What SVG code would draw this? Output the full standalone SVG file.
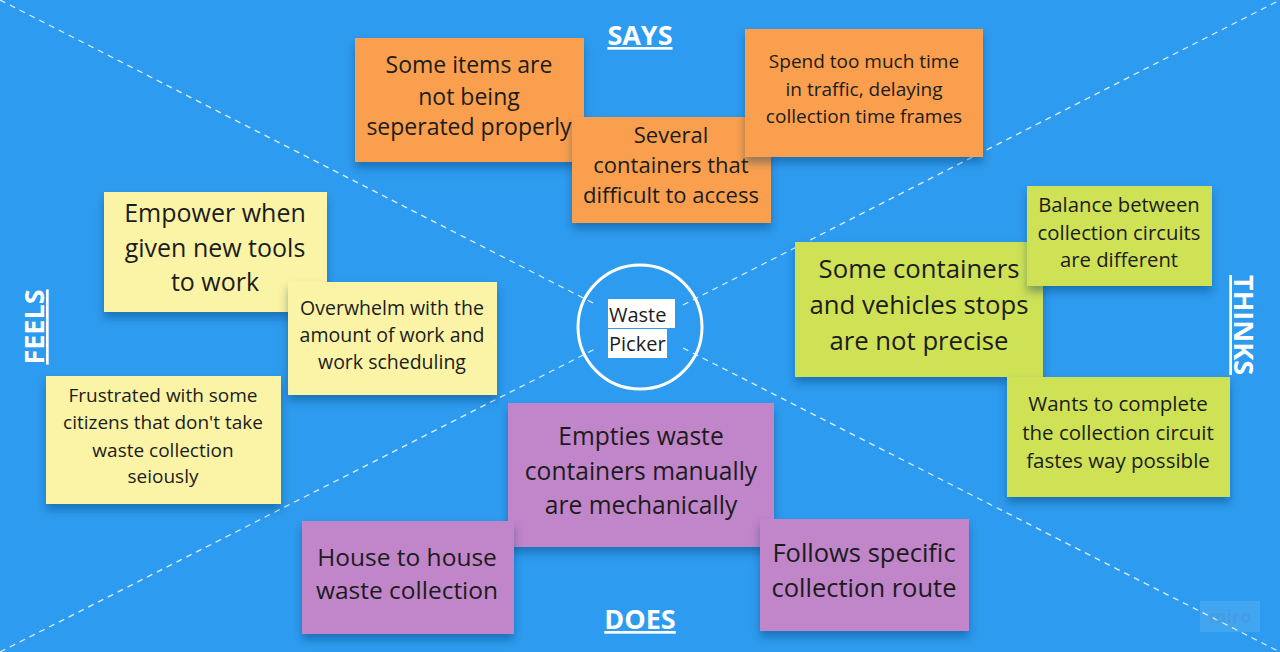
<svg xmlns="http://www.w3.org/2000/svg" width="1280" height="652" viewBox="0 0 1280 652">
<defs>
<filter id="sh" x="-10%" y="-10%" width="120%" height="130%">
<feDropShadow dx="0" dy="6" stdDeviation="4" flood-color="#0a3a66" flood-opacity="0.4"/>
</filter>
<style>
.bg{fill:#2d9bef}
.div{stroke:#ffffff;stroke-width:1.3;stroke-dasharray:6 5;opacity:0.85;fill:none}
.t{font-family:"Open Sans","Noto Sans","Liberation Sans",sans-serif;fill:#1c1c1c;text-anchor:middle}
.h{font-family:"Open Sans","Noto Sans","Liberation Sans",sans-serif;font-weight:bold;fill:#ffffff;text-anchor:middle;font-size:27px;text-decoration:underline}
.or{fill:#fa9f4d;filter:url(#sh)}
.ye{fill:#fbf4a6;filter:url(#sh)}
.gr{fill:#cfe256;filter:url(#sh)}
.pu{fill:#c185c9;filter:url(#sh)}
</style>
</defs>
<rect class="bg" x="0" y="0" width="1280" height="652"/>
<g id="dividers">
<line class="div" x1="0" y1="0" x2="597" y2="305"/>
<line class="div" x1="683" y1="305" x2="1280" y2="0"/>
<line class="div" x1="0" y1="652" x2="597" y2="348"/>
<line class="div" x1="683" y1="348" x2="1280" y2="652"/>
</g>
<g id="labels">
<text class="h" x="640" y="45">SAYS</text>
<text class="h" x="640" y="629">DOES</text>
<text class="h" transform="translate(44 327) rotate(-90)" x="0" y="0">FEELS</text>
<text class="h" transform="translate(1234 325) rotate(90)" x="0" y="0">THINKS</text>
</g>
<g id="center">
<circle cx="640" cy="327" r="62" fill="none" stroke="#ffffff" stroke-width="3"/>
<rect x="608" y="299" width="67" height="29" fill="#ffffff"/>
<rect x="608" y="329" width="59" height="29" fill="#ffffff"/>
<text class="t" x="609" y="322" font-size="20" style="text-anchor:start">Waste</text>
<text class="t" x="609" y="351" font-size="20" style="text-anchor:start">Picker</text>
</g>
<g id="says1">
<rect class="or" x="355" y="38" width="229" height="124"/>
<text class="t" font-size="23"><tspan x="469" y="73">Some items are</tspan><tspan x="469" y="105">not being</tspan><tspan x="469" y="135">seperated properly</tspan></text>
</g>
<g id="says2">
<rect class="or" x="572" y="117" width="199" height="106"/>
<text class="t" font-size="22"><tspan x="671" y="143">Several</tspan><tspan x="671" y="173">containers that</tspan><tspan x="671" y="203">difficult to access</tspan></text>
</g>
<g id="says3">
<rect class="or" x="745" y="29" width="238" height="128"/>
<text class="t" font-size="19"><tspan x="864" y="68">Spend too much time</tspan><tspan x="864" y="96">in traffic, delaying</tspan><tspan x="864" y="123">collection time frames</tspan></text>
</g>
<g id="feels1">
<rect class="ye" x="104" y="192" width="223" height="120"/>
<text class="t" font-size="25"><tspan x="215" y="222">Empower when</tspan><tspan x="215" y="257">given new tools</tspan><tspan x="215" y="291">to work</tspan></text>
</g>
<g id="feels2">
<rect class="ye" x="288" y="282" width="209" height="113"/>
<text class="t" font-size="19.5"><tspan x="392" y="315">Overwhelm with the</tspan><tspan x="392" y="342">amount of work and</tspan><tspan x="392" y="369">work scheduling</tspan></text>
</g>
<g id="feels3">
<rect class="ye" x="46" y="376" width="235" height="128"/>
<text class="t" font-size="19"><tspan x="163" y="402">Frustrated with some</tspan><tspan x="163" y="429">citizens that don't take</tspan><tspan x="163" y="457">waste collection</tspan><tspan x="163" y="483">seiously</tspan></text>
</g>
<g id="thinks1">
<rect class="gr" x="795" y="242" width="248" height="135"/>
<text class="t" font-size="25.7"><tspan x="919" y="278">Some containers</tspan><tspan x="919" y="314">and vehicles stops</tspan><tspan x="919" y="350">are not precise</tspan></text>
</g>
<g id="thinks2">
<rect class="gr" x="1027" y="186" width="185" height="100"/>
<text class="t" font-size="20.3"><tspan x="1119" y="212">Balance between</tspan><tspan x="1119" y="240">collection circuits</tspan><tspan x="1119" y="267">are different</tspan></text>
</g>
<g id="thinks3">
<rect class="gr" x="1007" y="377" width="223" height="120"/>
<text class="t" font-size="20.5"><tspan x="1118" y="411">Wants to complete</tspan><tspan x="1118" y="440">the collection circuit</tspan><tspan x="1118" y="468">fastes way possible</tspan></text>
</g>
<g id="does1">
<rect class="pu" x="508" y="403" width="266" height="144"/>
<text class="t" font-size="24.6"><tspan x="641" y="445">Empties waste</tspan><tspan x="641" y="480">containers manually</tspan><tspan x="641" y="514">are mechanically</tspan></text>
</g>
<g id="does2">
<rect class="pu" x="302" y="521" width="212" height="113"/>
<text class="t" font-size="24.5"><tspan x="407" y="566">House to house</tspan><tspan x="407" y="599">waste collection</tspan></text>
</g>
<g id="does3">
<rect class="pu" x="760" y="519" width="209" height="112"/>
<text class="t" font-size="25.5"><tspan x="864" y="562">Follows specific</tspan><tspan x="864" y="597">collection route</tspan></text>
</g>
<g id="watermark">
<rect x="1200" y="601" width="60" height="31" fill="#ffffff" opacity="0.1"/>
<text x="1230" y="623" font-family="Open Sans, Liberation Sans, sans-serif" font-weight="bold" font-size="18" fill="#4a86c0" opacity="0.25" text-anchor="middle">miro</text>
</g>
</svg>
